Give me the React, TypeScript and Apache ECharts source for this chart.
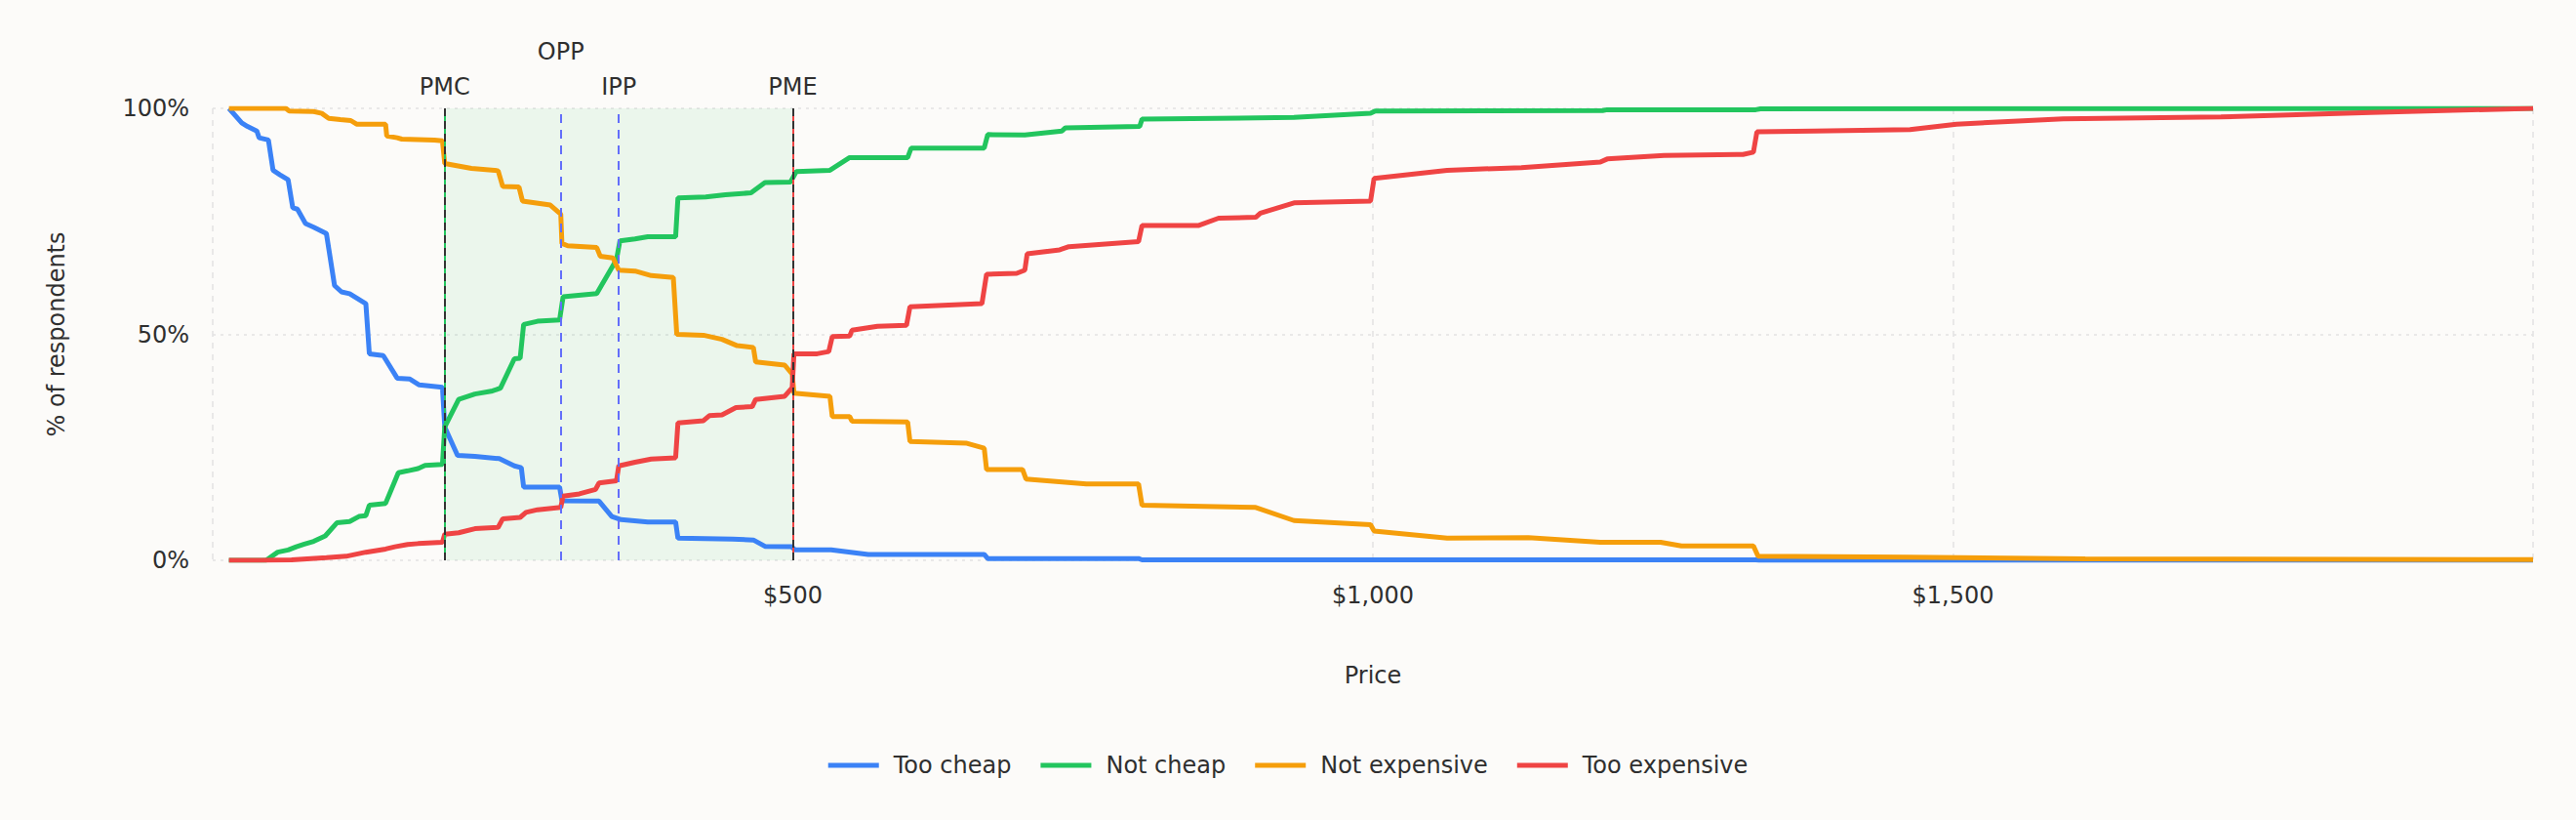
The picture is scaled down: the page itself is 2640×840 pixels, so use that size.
import React, { useEffect, useRef } from "react";
import * as echarts from "echarts";

// [price ($), % of respondents]
const tooCheap: [number, number][] = [
  [14, 100], [25, 96.8], [30, 96], [38, 95], [40, 93.5], [48, 93], [52, 86.3], [58, 85.3], [65, 84.2],
  [69, 78], [73, 77.7], [80, 74.5], [87, 73.7], [98, 72.3], [105, 60.8], [111, 59.4], [118, 59],
  [132, 56.8], [135, 45.7], [147, 45.3], [159, 40.3], [170, 40.1], [178, 38.8], [198, 38.3], [200, 29.5],
  [211, 23.2], [226, 23], [247, 22.5], [260, 20.9], [266, 20.5], [268, 16.2], [299, 16.2], [301, 13.2],
  [333, 13.1], [344, 9.7], [352, 9], [375, 8.5], [399, 8.5], [401, 4.9], [448, 4.7], [466, 4.5],
  [476, 3.1], [499, 3], [502, 2.3], [533, 2.3], [565, 1.3], [665, 1.3], [668, 0.4], [798, 0.4],
  [801, 0.1], [1330, 0.1], [1333, 0], [2000, 0],
];

const notCheap: [number, number][] = [
  [14, 0], [46, 0], [56, 1.8], [65, 2.3], [72, 3], [79, 3.6], [87, 4.2], [97, 5.4], [107, 8.3],
  [118, 8.6], [126, 9.7], [132, 9.9], [135, 12.2], [149, 12.6], [160, 19.4], [168, 19.8], [177, 20.3],
  [183, 21], [198, 21.2], [200, 29.5], [212, 35.6], [226, 36.8], [240, 37.4], [248, 38.1], [260, 44.6],
  [265, 44.7], [268, 52.2], [280, 52.9], [299, 53.2], [302, 58.3], [313, 58.6], [331, 59], [348, 66.5],
  [351, 70.7], [364, 71.1], [375, 71.6], [399, 71.6], [401, 80.2], [425, 80.4], [442, 80.9],
  [464, 81.3], [476, 83.6], [498, 83.7], [503, 86], [532, 86.3], [549, 89.1], [599, 89.1], [602, 91.2],
  [665, 91.2], [668, 94.2], [700, 94.1], [732, 95], [735, 95.7], [799, 96], [801, 97.6], [932, 98],
  [998, 98.9], [1002, 99.4], [1198, 99.5], [1202, 99.7], [1330, 99.7], [1334, 99.9], [2000, 100],
];

const notExpensive: [number, number][] = [
  [14, 100], [63, 100], [66, 99.4], [87, 99.3], [94, 98.9], [100, 97.8], [110, 97.5], [119, 97.3],
  [124, 96.5], [149, 96.5], [150, 93.9], [159, 93.5], [163, 93.2], [191, 93], [198, 92.8], [200, 87.8],
  [223, 86.7], [246, 86.2], [250, 82.7], [264, 82.6], [267, 79.5], [291, 78.6], [300, 76.6], [301, 70.1],
  [306, 69.6], [331, 69.2], [334, 67.3], [345, 66.9], [350, 64.2], [364, 64], [378, 63], [397, 62.6],
  [400, 50], [423, 49.8], [439, 48.9], [452, 47.5], [466, 47.1], [468, 43.9], [493, 43.2], [499.5, 41.2],
  [501, 37], [532, 36.3], [534, 31.8], [549, 31.8], [551, 30.8], [599, 30.6], [601, 26.3], [650, 25.9],
  [665, 24.8], [667, 20.1], [698, 20.1], [701, 18], [753, 16.9], [798, 16.9], [801, 12.2], [899, 11.7],
  [932, 8.8], [998, 7.9], [1001, 6.5], [1064, 4.9], [1134, 5], [1196, 4], [1248, 4], [1266, 3.2],
  [1328, 3.2], [1332, 0.9], [1460, 0.7], [1614, 0.3], [2000, 0.15],
];

const tooExpensive: [number, number][] = [
  [14, 0], [42, 0], [68, 0.1], [98, 0.6], [115, 0.9], [132, 1.8], [149, 2.5], [157, 3], [168, 3.5],
  [177, 3.7], [198, 4], [200, 5.8], [212, 6.1], [226, 7], [246, 7.3], [250, 9.2], [265, 9.5], [270, 10.6],
  [280, 11.2], [300, 11.7], [302, 14.2], [316, 14.7], [330, 15.7], [333, 17.1], [348, 17.6], [350, 20.9],
  [364, 21.7], [378, 22.4], [399, 22.7], [401, 30.4], [423, 30.9], [428, 32], [439, 32.2], [451, 33.8],
  [465, 34], [468, 35.6], [493, 36.3], [499.5, 38.2], [501, 45.7], [521, 45.7], [531, 46.2], [534, 49.5],
  [549, 49.6], [551, 50.9], [573, 51.8], [598, 52], [601, 56.1], [663, 56.8], [667, 63.3], [693, 63.5],
  [700, 64.2], [702, 67.8], [730, 68.7], [738, 69.4], [798, 70.5], [801, 74.1], [850, 74.1], [867, 75.7],
  [899, 75.9], [903, 76.8], [932, 79.1], [998, 79.5], [1001, 84.5], [1064, 86.3], [1128, 86.9],
  [1196, 88.1], [1202, 88.8], [1251, 89.6], [1319, 89.8], [1328, 90.3], [1331, 94.8], [1380, 95],
  [1463, 95.3], [1503, 96.5], [1595, 97.7], [1731, 98.1], [1860, 99.1], [2000, 100],
];

const seriesNames = ["Too cheap", "Not cheap", "Not expensive", "Too expensive"];
const seriesColors = ["#3b82f6", "#22c55e", "#f59e0b", "#ef4444"];

// price points: PMC, OPP, IPP, PME
const pricePoints = [
  { name: "PMC", price: 200 },
  { name: "OPP", price: 300 },
  { name: "IPP", price: 350 },
  { name: "PME", price: 500 },
];

const xTicks = { min: 0, max: 2000, interval: 500 };
const yTicks = { min: 0, max: 100, interval: 50 };

const FONT = "DejaVu Sans";
const TEXT = "#2f2f2f";

export default function App() {
  const ref = useRef<HTMLDivElement>(null);

  useEffect(() => {
    document.body.style.margin = "0";
    document.body.style.background = "#fcfbf9";
    if (!ref.current) return;
    const chart = echarts.init(ref.current, undefined, { renderer: "svg" });

    const pmc = pricePoints[0];
    const opp = pricePoints[1];
    const ipp = pricePoints[2];
    const pme = pricePoints[3];

    const labelBase = { show: true, position: "end", fontSize: 24, color: TEXT, fontFamily: FONT };

    const markLineData: any[] = [
      { xAxis: pmc.price, lineStyle: { color: "#22c55e", type: "solid", width: 2 }, label: { show: false } },
      { xAxis: pme.price, lineStyle: { color: "#ef4444", type: "solid", width: 2 }, label: { show: false } },
      {
        xAxis: pmc.price,
        lineStyle: { color: "#333333", type: [8, 5], width: 2 },
        label: { ...labelBase, formatter: pmc.name, distance: 10 },
      },
      {
        xAxis: opp.price,
        lineStyle: { color: "#636efa", type: [9, 7], width: 2 },
        label: { ...labelBase, formatter: opp.name, distance: 46 },
      },
      {
        xAxis: ipp.price,
        lineStyle: { color: "#636efa", type: [9, 7], width: 2 },
        label: { ...labelBase, formatter: ipp.name, distance: 10 },
      },
      {
        xAxis: pme.price,
        lineStyle: { color: "#333333", type: [8, 5], width: 2 },
        label: { ...labelBase, formatter: pme.name, distance: 10 },
      },
    ];

    const datasets = [tooCheap, notCheap, notExpensive, tooExpensive];

    const series: any[] = datasets.map((d, i) => ({
      name: seriesNames[i],
      type: "line",
      data: d,
      showSymbol: false,
      symbol: "none",
      silent: true,
      lineStyle: { width: 5, color: seriesColors[i] },
      itemStyle: { color: seriesColors[i] },
      z: 2,
    }));

    series[0].markArea = {
      silent: true,
      itemStyle: { color: "rgba(34,197,94,0.08)" },
      data: [[{ xAxis: pmc.price }, { xAxis: pme.price }]],
    };
    series[0].markLine = {
      silent: true,
      symbol: ["none", "none"],
      animation: false,
      data: markLineData,
    };

    const option: any = {
      animation: false,
      backgroundColor: "#fcfbf9",
      textStyle: { fontFamily: FONT },
      grid: { left: 218, right: 44, top: 111, bottom: 266, containLabel: false },
      xAxis: {
        type: "value",
        min: xTicks.min,
        max: xTicks.max,
        interval: xTicks.interval,
        name: "Price",
        nameLocation: "middle",
        nameGap: 106,
        nameTextStyle: { fontSize: 24, color: TEXT, fontFamily: FONT },
        axisLine: { show: false },
        axisTick: { show: false },
        axisLabel: {
          fontSize: 24,
          color: TEXT,
          fontFamily: FONT,
          margin: 24,
          formatter: (v: number) =>
            v === xTicks.min || v === xTicks.max ? "" : "$" + v.toLocaleString("en-US"),
        },
        splitLine: { show: true, lineStyle: { color: "#e2e2e2", type: [6, 6], width: 1.5 } },
      },
      yAxis: {
        type: "value",
        min: yTicks.min,
        max: yTicks.max,
        interval: yTicks.interval,
        name: "% of respondents",
        nameLocation: "middle",
        nameGap: 148,
        nameTextStyle: { fontSize: 24, color: TEXT, fontFamily: FONT },
        axisLine: { show: false },
        axisTick: { show: false },
        axisLabel: { fontSize: 24, color: TEXT, fontFamily: FONT, margin: 24, formatter: "{value}%" },
        splitLine: { show: true, lineStyle: { color: "#e2e2e2", type: [3, 5], width: 1.5 } },
      },
      legend: {
        data: seriesNames,
        left: "center",
        top: 767,
        icon: "rect",
        itemWidth: 52,
        itemHeight: 5,
        itemGap: 30,
        selectedMode: false,
        textStyle: { fontSize: 24, color: TEXT, fontFamily: FONT, padding: [0, 0, 0, 10] },
      },
      series,
    };

    chart.setOption(option);
    return () => chart.dispose();
  }, []);

  return <div ref={ref} style={{ width: 2640, height: 840 }} />;
}
